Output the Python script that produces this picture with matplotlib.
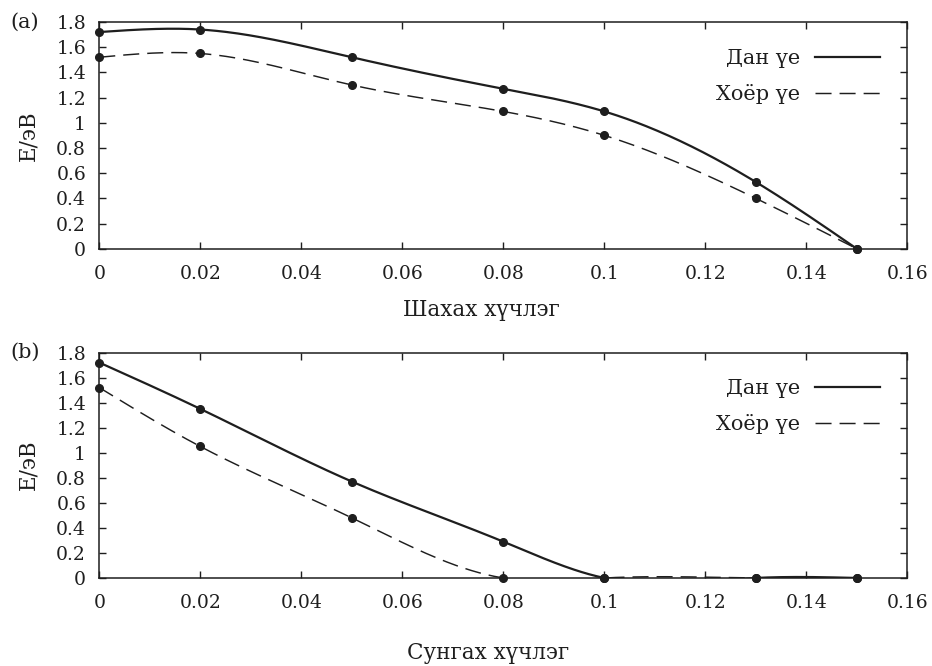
import numpy as np
import matplotlib
matplotlib.use('Agg')
import matplotlib.pyplot as plt

plt.rcParams['font.family'] = ['DejaVu Serif']

# strain values (shared by both panels)
strain = [0.0, 0.02, 0.05, 0.08, 0.10, 0.13, 0.15]

# (a) compression
comp_single = [1.72, 1.74, 1.52, 1.27, 1.09, 0.53, 0.0]
comp_double = [1.52, 1.55, 1.30, 1.09, 0.90, 0.40, 0.0]

# (b) tension
tens_single = [1.72, 1.35, 0.77, 0.29, 0.0, 0.0, 0.0]
tens_double = [1.52, 1.05, 0.48, 0.0, 0.0, 0.0, 0.0]

series_names = ['Дан үе', 'Хоёр үе']
xlabels = ['Шахах хүчлэг', 'Сунгах хүчлэг']
panel_tags = ['(a)', '(b)']

ink = '#1e1e1e'


def natural_spline(x, y, num=400):
    # natural cubic spline through the points (second derivative zero at ends)
    x = np.asarray(x, float)
    y = np.asarray(y, float)
    n = len(x)
    h = np.diff(x)
    A = np.zeros((n, n))
    r = np.zeros(n)
    A[0, 0] = 1.0
    A[-1, -1] = 1.0
    for i in range(1, n - 1):
        A[i, i - 1] = h[i - 1]
        A[i, i] = 2 * (h[i - 1] + h[i])
        A[i, i + 1] = h[i]
        r[i] = 6 * ((y[i + 1] - y[i]) / h[i] - (y[i] - y[i - 1]) / h[i - 1])
    M = np.linalg.solve(A, r)
    xs = np.linspace(x[0], x[-1], num)
    idx = np.clip(np.searchsorted(x, xs) - 1, 0, n - 2)
    x0, x1 = x[idx], x[idx + 1]
    y0, y1 = y[idx], y[idx + 1]
    m0, m1 = M[idx], M[idx + 1]
    hh = x1 - x0
    a = (x1 - xs) / hh
    b = (xs - x0) / hh
    ys = a * y0 + b * y1 + ((a ** 3 - a) * m0 + (b ** 3 - b) * m1) * hh ** 2 / 6
    return xs, ys


fig = plt.figure(figsize=(9.32, 6.66), dpi=100)
ax_a = fig.add_axes([0.1065, 0.6265, 0.867, 0.3405])
ax_b = fig.add_axes([0.1065, 0.1322, 0.867, 0.3385])

panels = [(ax_a, comp_single, comp_double), (ax_b, tens_single, tens_double)]
xlabel_pos = [(0.473, -0.223), (0.481, -0.283)]

for k, (ax, single, double) in enumerate(panels):
    xs, ys = natural_spline(strain, single)
    ax.plot(xs, ys, color=ink, lw=1.6, label=series_names[0])
    xs, ys = natural_spline(strain, double)
    ax.plot(xs, ys, color=ink, lw=1.05, dashes=(11, 5.5), label=series_names[1])
    ax.plot(strain, single, 'o', color=ink, ms=5.5, clip_on=False, zorder=5)
    ax.plot(strain, double, 'o', color=ink, ms=5.5, clip_on=False, zorder=5)

    ax.set_xlim(0, 0.16)
    ax.set_ylim(0, 1.8)
    ax.set_xticks(np.arange(0, 0.161, 0.02))
    ax.set_yticks(np.arange(0, 1.81, 0.2))
    ax.xaxis.set_major_formatter(matplotlib.ticker.FormatStrFormatter('%g'))
    ax.yaxis.set_major_formatter(matplotlib.ticker.FormatStrFormatter('%g'))
    ax.tick_params(direction='in', length=5, width=1.0, top=True, right=True,
                   labelsize=13.5, colors=ink)
    ax.tick_params(axis='x', pad=11.5)
    ax.tick_params(axis='y', pad=9.5)
    for s in ax.spines.values():
        s.set_linewidth(1.1)
        s.set_color(ink)

    ax.set_ylabel('E/эВ', fontsize=15.5, color=ink)
    ax.yaxis.set_label_coords(-0.074, 0.5)
    ax.set_xlabel(xlabels[k], fontsize=15.5, color=ink)
    ax.xaxis.set_label_coords(*xlabel_pos[k])

    ax.text(-0.11, 1.0, panel_tags[k], transform=ax.transAxes, fontsize=15,
            color=ink, ha='left', va='center')

    ax.legend(loc='upper right', bbox_to_anchor=(0.992, 0.973), frameon=False,
              markerfirst=False, fontsize=15, handlelength=3.1,
              handletextpad=0.72, labelspacing=0.77, borderaxespad=0.6,
              labelcolor=ink)

fig.savefig('out.png', dpi=100)
